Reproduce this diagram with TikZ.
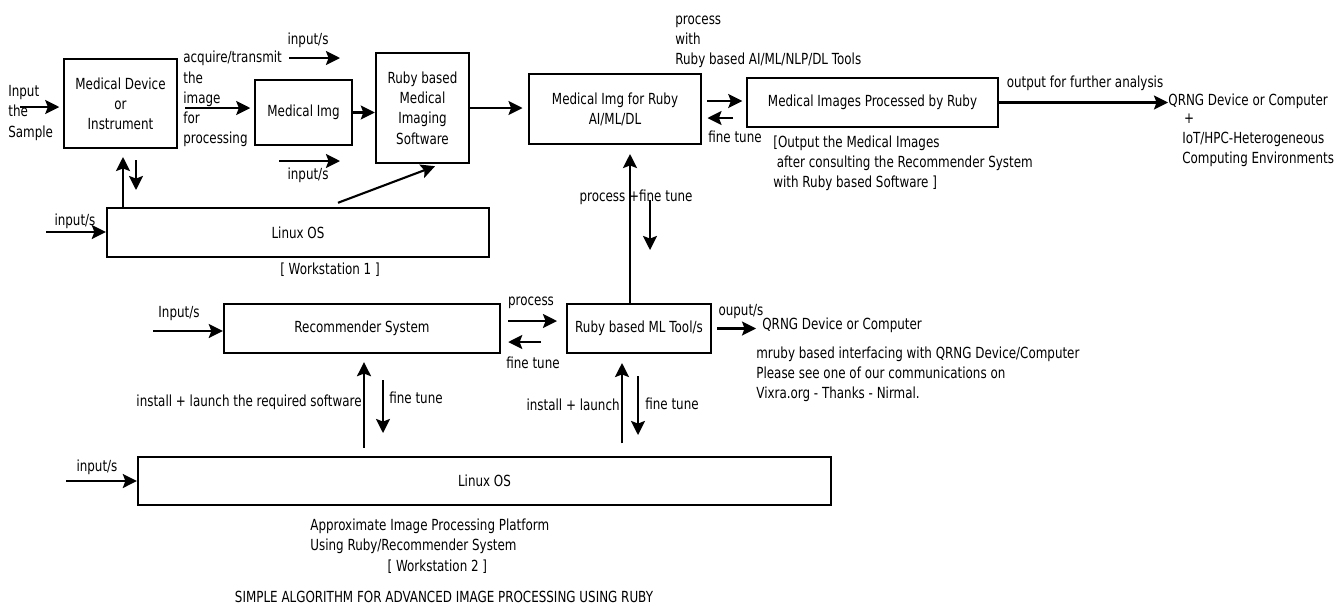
\documentclass[tikz,border=0pt]{standalone}
\usepackage{fontspec}
\setmainfont{DejaVu Sans}[FakeStretch=0.78]
\usetikzlibrary{arrows.meta,calc}

\begin{document}
\begin{tikzpicture}[x=0.02cm,y=-0.02cm,
  box/.style={draw,line width=1.4pt,align=center,inner sep=2pt},
  arr/.style={-{Stealth[length=8pt,width=8pt,inset=1.5pt]},line width=1.2pt},
  lbl/.style={inner sep=0pt},
  every node/.append style={font=\fontsize{8.7}{11.5}\selectfont}]
\useasboundingbox (0,0) rectangle (1338,606);
% Boxes
\node[box,minimum width=2.26cm,minimum height=1.78cm] (dev) at (120.5,103.5) {Medical Device\\or\\Instrument};
\node[box,minimum width=1.94cm,minimum height=1.30cm] (img) at (303.5,112.5) {Medical Img};
\node[box,minimum width=1.86cm,minimum height=2.20cm] (soft) at (422.5,108) {Ruby based\\Medical\\Imaging\\Software};
\node[box,minimum width=7.64cm,minimum height=0.98cm] (ws1) at (298,232.5) {Linux OS};
\node[box,minimum width=3.44cm,minimum height=1.40cm] (aiml) at (615,109) {Medical Img for Ruby\\AI/ML/DL};
\node[box,minimum width=5.02cm,minimum height=0.98cm] (proc) at (872.5,102.5) {Medical Images Processed by Ruby};
\node[box,minimum width=5.52cm,minimum height=0.98cm] (rec) at (362,328.5) {Recommender System};
\node[box,minimum width=2.88cm,minimum height=0.98cm] (ml) at (639,328.5) {Ruby based ML Tool/s};
\node[box,minimum width=13.86cm,minimum height=0.96cm] (ws2) at (484.5,481) {Linux OS};
% Texts
\node[lbl,anchor=west,align=left] (sample) at (8,113) {Input\\the\\Sample};
\node[lbl,anchor=west,align=left] (acq) at (183,99) {acquire/transmit\\the\\image\\for\\processing};
\node[lbl] (in1) at (308,40) {input/s};
\node[lbl] (in2) at (308,175) {input/s};
\node[lbl] (in3) at (75,221) {input/s};
\node[lbl] (ws1cap) at (330,270) {[ Workstation 1 ]};
\node[lbl,anchor=west,align=left] (tools) at (675,42) {process\\with\\Ruby based AI/ML/NLP/DL Tools};
\node[lbl] (ft1) at (735,137) {fine tune};
\node[lbl] (outlbl) at (1085,83) {output for further analysis};
\node[lbl,anchor=west] (qrng1) at (1168,101) {QRNG Device or Computer};
\node[lbl,anchor=west,align=left] (env) at (1182,140) {\hspace*{1pt}+\\IoT/HPC-Heterogeneous\\Computing Environments};
\node[lbl,anchor=west,align=left] (note) at (773,163) {[Output the Medical Images\\\hspace*{2pt}after consulting the Recommender System\\with Ruby based Software ]};
\node[lbl] (pft) at (636,197) {process +fine tune};
\node[lbl] (in4) at (179,314) {Input/s};
\node[lbl] (prc) at (531,303) {process};
\node[lbl] (ft2) at (533,363) {fine tune};
\node[lbl] (outs) at (741,312) {ouput/s};
\node[lbl,anchor=west] (qrng2) at (762,325) {QRNG Device or Computer};
\node[lbl,anchor=west,align=left] (mruby) at (756,374) {mruby based interfacing with QRNG Device/Computer\\Please see one of our communications on\\Vixra.org - Thanks - Nirmal.};
\node[lbl,anchor=east] (inst1) at (362,402) {install + launch the required software};
\node[lbl,anchor=west] (ft3) at (389,398) {fine tune};
\node[lbl,anchor=east] (inst2) at (620,405) {install + launch};
\node[lbl,anchor=west] (ft4) at (645,404) {fine tune};
\node[lbl] (in5) at (97,467) {input/s};
\node[lbl,anchor=west,align=left] (ws2cap) at (310,546) {Approximate Image Processing Platform\\Using Ruby/Recommender System\\\hspace*{44pt}[ Workstation 2 ]};
\node[lbl] (title) at (444,597) {SIMPLE ALGORITHM FOR ADVANCED IMAGE PROCESSING USING RUBY};
% Workstation 1 arrows
\coordinate (s0) at (20,107);
\draw[arr,shorten >=2pt] (s0) -- (s0 -| dev.west);
\coordinate (a0) at (184,108);
\draw[arr,shorten <=4pt,shorten >=2pt] (dev.east |- a0) -- (img.west |- a0);
\coordinate (t0) at (289,58);
\coordinate (t1) at (340,58);
\draw[arr] (t0) -- (t1);
\coordinate (b0) at (279,161);
\coordinate (b1) at (340,161);
\draw[arr] (b0) -- (b1);
\draw[arr] (img.east) -- (img.east -| soft.west);
\coordinate (u0) at (123,157);
\draw[arr] (ws1.north -| u0) -- (u0);
\coordinate (d0) at (136,160);
\coordinate (d1) at (136,190);
\draw[arr] (d0) -- (d1);
\coordinate (w0) at (46,232);
\draw[arr] (w0) -- (w0 -| ws1.west);
\draw[arr] ($(ws1.north)+(40,-4)$) -- ($(soft.south)+(12.5,2)$);
\draw[arr,shorten >=3pt] (soft.east) -- (soft.east -| aiml.west);
% AI/ML part
\coordinate (p0) at (707,101);
\coordinate (p1) at (733,118);
\draw[arr,shorten <=3pt,shorten >=2pt] (aiml.east |- p0) -- (proc.west |- p0);
\draw[arr,shorten >=3pt] (p1) -- (aiml.east |- p1);
\draw[arr] (proc.east) -- (proc.east -| qrng1.west);
\coordinate (v0) at (630,0);
\draw[arr,shorten >=5pt] (ml.north -| v0) -- (aiml.south -| v0);
\coordinate (v1) at (650,200);
\coordinate (v2) at (650,250);
\draw[arr] (v1) -- (v2);
% Workstation 2 arrows
\coordinate (q0) at (507,321);
\coordinate (q1) at (541,342);
\draw[arr,shorten <=4pt,shorten >=5pt] (rec.east |- q0) -- (ml.west |- q0);
\draw[arr,shorten >=4pt] (q1) -- (rec.east |- q1);
\coordinate (r0) at (153,331);
\draw[arr] (r0) -- (r0 -| rec.west);
\draw[arr,shorten <=3pt,shorten >=3.4pt] (ml.east) -- (ml.east -| qrng2.west);
\coordinate (e0) at (364,0);
\draw[arr,shorten <=4.5pt,shorten >=4.5pt] (ws2.north -| e0) -- (rec.south -| e0);
\coordinate (e1) at (383,380);
\coordinate (e2) at (383,433);
\draw[arr] (e1) -- (e2);
\coordinate (f0) at (622,0);
\draw[arr,shorten <=7pt,shorten >=5pt] (ws2.north -| f0) -- (ml.south -| f0);
\coordinate (f1) at (638,376);
\coordinate (f2) at (638,435);
\draw[arr] (f1) -- (f2);
\coordinate (g0) at (66,481);
\draw[arr] (g0) -- (g0 -| ws2.west);
\end{tikzpicture}
\end{document}
